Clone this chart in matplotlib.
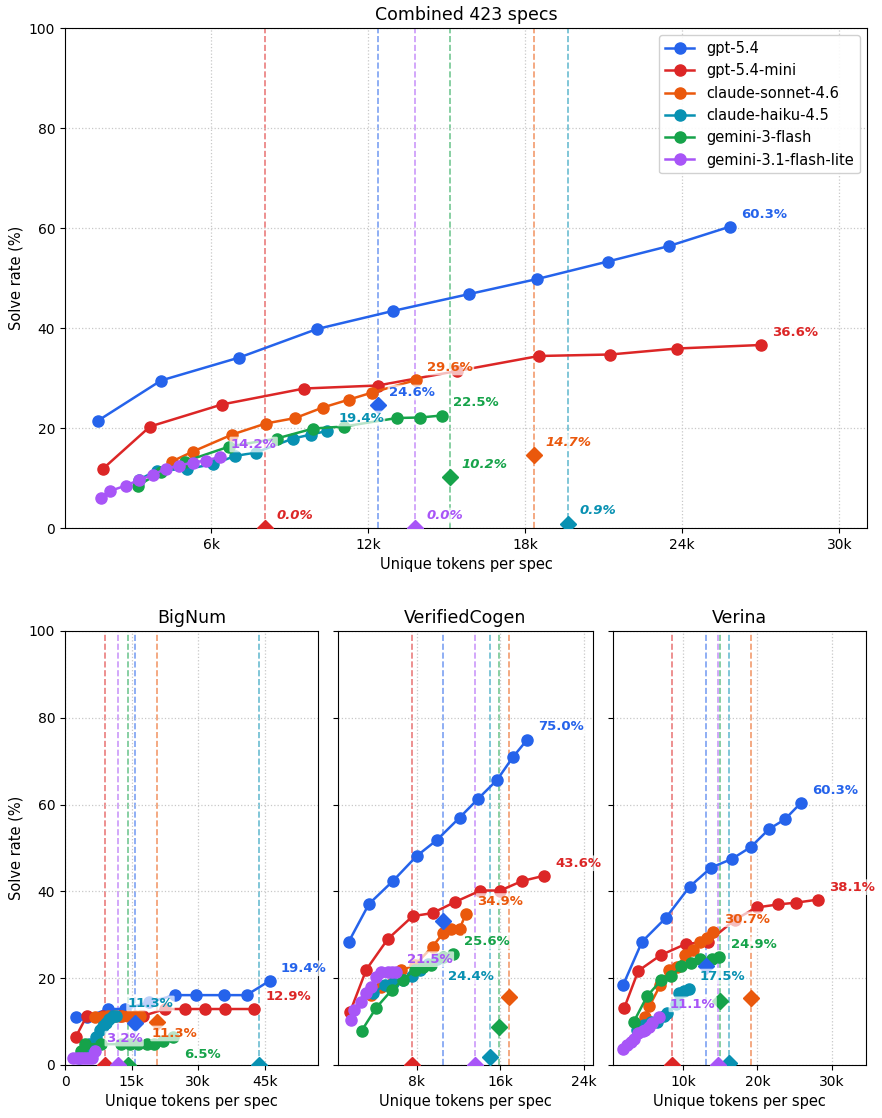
"""
Solve rate vs unique tokens per spec
"""

import matplotlib

matplotlib.use("Agg")
import matplotlib.pyplot as plt
from matplotlib.ticker import FuncFormatter, MultipleLocator

MODELS = [
    "gpt-5.4",
    "gpt-5.4-mini",
    "claude-sonnet-4.6",
    "claude-haiku-4.5",
    "gemini-3-flash",
    "gemini-3.1-flash-lite",
]
COLORS = ["#2563eb", "#dc2626", "#ea580c", "#0891b2", "#16a34a", "#a855f7"]

# --- Combined (tokens in thousands, solve rate in %) ---
COMB_X = {
    "gpt-5.4": [1.69, 4.09, 7.08, 10.05, 12.94, 15.87, 18.46, 21.16, 23.50, 25.84],
    "gpt-5.4-mini": [1.86, 3.67, 6.41, 9.56, 12.37, 15.4, 18.52, 21.25, 23.81, 27.0],
    "claude-sonnet-4.6": [4.50, 5.31, 6.81, 8.09, 9.22, 10.27, 11.28, 12.16, 13.83],
    "claude-haiku-4.5": [3.26, 3.92, 5.09, 6.09, 6.92, 7.71, 9.14, 9.82, 10.43],
    "gemini-3-flash": [3.20, 4.1, 5.0, 6.7, 8.51, 9.91, 11.08, 13.10, 13.99, 14.81],
    "gemini-3.1-flash-lite": [1.78, 2.14, 2.75, 3.24, 3.77, 4.28, 4.78, 5.30, 5.80, 6.33],
}
COMB_Y = {
    "gpt-5.4": [21.5, 29.5, 34.1, 39.8, 43.4, 46.8, 49.8, 53.3, 56.4, 60.3],
    "gpt-5.4-mini": [11.8, 20.3, 24.7, 27.9, 28.5, 31.4, 34.4, 34.7, 35.9, 36.6],
    "claude-sonnet-4.6": [13.3, 15.3, 18.7, 20.9, 22.0, 24.1, 25.7, 27.1, 29.6],
    "claude-haiku-4.5": [9.7, 11.5, 11.8, 12.8, 14.4, 15.1, 17.9, 18.7, 19.4],
    "gemini-3-flash": [8.5, 11.2, 13.3, 16.3, 17.9, 19.9, 20.3, 22.0, 22.1, 22.5],
    "gemini-3.1-flash-lite": [6.1, 7.4, 8.5, 9.6, 10.6, 11.9, 12.5, 13.1, 13.5, 14.2],
}
COMB_BASE_X = [12.37, 8.06, 18.34, 19.64, 15.13, 13.79]
COMB_BASE_Y = [24.6, 0.0, 14.7, 0.9, 10.2, 0.0]

# --- BigNum ---
BIGNUM_X = {
    "gpt-5.4": [2.4, 5.0, 9.7, 13.5, 19.0, 24.8, 29.6, 35.8, 40.9, 46.1],
    "gpt-5.4-mini": [2.4, 4.9, 8.5, 12.5, 17.6, 22.5, 27.0, 31.5, 36.0, 42.6],
    "claude-sonnet-4.6": [6.8, 8.3, 9.8, 11.3, 12.8, 14.3, 15.8, 17.0],
    "claude-haiku-4.5": [3.2, 4.0, 5.5, 7.0, 7.8, 8.6, 9.3, 10.0, 10.8, 11.6],
    "gemini-3-flash": [3.5, 4.5, 8.2, 12.7, 14.6, 16.5, 18.4, 20.1, 22.0, 24.3],
    "gemini-3.1-flash-lite": [1.9, 2.6, 3.3, 4.0, 4.7, 5.4, 6.0, 6.7],
}
BIGNUM_Y = {
    "gpt-5.4": [11.1, 11.1, 12.9, 12.9, 14.5, 16.1, 16.1, 16.1, 16.1, 19.4],
    "gpt-5.4-mini": [6.4, 11.3, 11.3, 11.3, 11.3, 12.9, 12.9, 12.9, 12.9, 12.9],
    "claude-sonnet-4.6": [11.0, 11.0, 11.3, 11.3, 11.3, 11.3, 11.3, 11.3],
    "claude-haiku-4.5": [1.6, 3.2, 4.8, 6.5, 8.1, 8.9, 9.7, 10.5, 11.3, 11.3],
    "gemini-3-flash": [3.2, 4.8, 4.8, 4.8, 4.8, 4.8, 4.8, 4.8, 5.6, 6.5],
    "gemini-3.1-flash-lite": [1.6, 1.6, 1.6, 1.6, 1.6, 1.6, 1.6, 3.2],
}
BIGNUM_BASE_X = [15.7, 9.1, 20.8, 43.8, 14.1, 12.0]
BIGNUM_BASE_Y = [9.6, 0.0, 10.0, 0.0, 0.0, 0.0]

# --- VerifiedCogen ---
VC_X = {
    "gpt-5.4": [1.46, 3.4, 5.7, 8.0, 9.9, 12.1, 13.9, 15.7, 17.2, 18.6],
    "gpt-5.4-mini": [1.6, 3.15, 5.2, 7.6, 9.5, 11.7, 14.1, 16.0, 18.1, 20.2],
    "claude-sonnet-4.6": [3.6, 4.6, 6.5, 7.8, 9.5, 10.5, 11.3, 12.1, 12.7],
    "claude-haiku-4.5": [3.8, 4.9, 5.7, 6.7, 7.5, 8.3, 9.1, 9.9],
    "gemini-3-flash": [2.7, 4.1, 5.6, 6.7, 7.8, 8.6, 9.4, 10.5, 11.5],
    "gemini-3.1-flash-lite": [1.65, 2.0, 2.6, 3.15, 3.6, 4.1, 4.6, 5.2, 5.6, 6.0],
}
VC_Y = {
    "gpt-5.4": [28.4, 37.1, 42.4, 48.2, 51.8, 57.0, 61.4, 65.7, 70.9, 75.0],
    "gpt-5.4-mini": [12.3, 22.0, 29.0, 34.3, 35.0, 37.6, 40.2, 40.2, 42.4, 43.6],
    "claude-sonnet-4.6": [16.1, 18.0, 21.9, 23.0, 27.3, 30.3, 31.3, 31.3, 34.9],
    "claude-haiku-4.5": [16.5, 18.4, 19.0, 19.6, 20.4, 22.0, 23.2, 24.4],
    "gemini-3-flash": [7.9, 13.2, 17.3, 19.7, 21.9, 22.5, 23.0, 25.0, 25.6],
    "gemini-3.1-flash-lite": [10.4, 12.7, 14.6, 16.5, 18.0, 20.3, 21.5, 21.5, 21.5, 21.5],
}
VC_BASE_X = [10.5, 7.5, 16.8, 15.0, 15.9, 13.6]
VC_BASE_Y = [33.2, 0.0, 15.7, 1.8, 8.7, 0.0]

# --- Verina ---
VERINA_X = {
    "gpt-5.4": [1.95, 4.5, 7.7, 10.9, 13.8, 16.6, 19.1, 21.6, 23.7, 25.8],
    "gpt-5.4-mini": [2.1, 4.0, 7.0, 10.4, 13.4, 17.0, 19.9, 22.8, 25.2, 28.1],
    "claude-sonnet-4.6": [4.85, 5.5, 6.95, 8.1, 9.2, 10.3, 11.4, 12.3, 13.2, 14.0],
    "claude-haiku-4.5": [3.8, 4.7, 5.7, 6.5, 7.4, 7.85, 9.0, 9.5, 10.2, 10.75],
    "gemini-3-flash": [3.4, 5.2, 7.1, 8.4, 9.8, 11.1, 12.3, 13.9, 14.9],
    "gemini-3.1-flash-lite": [2.0, 2.5, 3.0, 3.4, 4.0, 4.6, 4.9, 5.4, 5.8, 6.75],
}
VERINA_Y = {
    "gpt-5.4": [18.4, 28.4, 33.9, 41.1, 45.5, 47.5, 50.2, 54.4, 56.6, 60.3],
    "gpt-5.4-mini": [13.1, 21.7, 25.3, 27.9, 28.4, 33.5, 36.3, 37.0, 37.4, 38.1],
    "claude-sonnet-4.6": [11.1, 13.6, 18.4, 21.9, 22.6, 25.3, 26.5, 28.4, 29.2, 30.7],
    "claude-haiku-4.5": [8.1, 9.3, 9.8, 10.0, 11.2, 11.9, 14.0, 16.5, 17.0, 17.5],
    "gemini-3-flash": [10.0, 15.9, 19.6, 20.5, 22.7, 23.4, 24.4, 24.4, 24.9],
    "gemini-3.1-flash-lite": [3.6, 4.6, 5.2, 6.1, 7.4, 7.8, 8.1, 8.8, 9.6, 11.1],
}
VERINA_BASE_X = [13.1, 8.5, 19.1, 16.2, 15.0, 14.7]
VERINA_BASE_Y = [22.7, 0.0, 15.5, 0.5, 14.7, 0.0]

# labels that had to be moved down by hand (number of steps)
LABEL_NUDGE = {
    ("BigNum", "claude-sonnet-4.6"): 2,
    ("BigNum", "gemini-3-flash"): 2,
    ("VerifiedCogen", "claude-haiku-4.5"): 2,
}

FIG_W, FIG_H = 882, 1118


def k_fmt(v, _):
    return "0" if v == 0 else f"{v:.0f}k"


def px_rect(x0, y0, x1, y1):
    return [x0 / FIG_W, 1 - y1 / FIG_H, (x1 - x0) / FIG_W, (y1 - y0) / FIG_H]


def draw_panel(ax, name, xs, ys, base_x, base_y, title, xlim, step, base_labels=False):
    for i, (model, color) in enumerate(zip(MODELS, COLORS)):
        ax.axvline(base_x[i], color=color, linestyle="--", linewidth=1.2, alpha=0.6, zorder=1)
        ax.plot(xs[model], ys[model], "-o", color=color, linewidth=1.8, markersize=8,
                label=model, zorder=3)
        ax.plot(base_x[i], base_y[i], marker="D", markersize=8.5, color=color,
                linestyle="none", zorder=4)

        nudge = LABEL_NUDGE.get((name, model), 0)
        ax.annotate(
            f"{ys[model][-1]:.1f}%",
            (xs[model][-1], ys[model][-1]),
            xytext=(8, 9 - 10.8 * nudge),
            textcoords="offset points",
            ha="left",
            va="center",
            fontsize=9.5,
            fontweight="bold",
            color=color,
            bbox=dict(boxstyle="round,pad=0.1", fc="white", ec="none", alpha=0.7),
            zorder=6,
            annotation_clip=False,
        )
        if base_labels:
            ax.annotate(
                f"{base_y[i]:.1f}%",
                (base_x[i], base_y[i]),
                xytext=(8, 9),
                textcoords="offset points",
                ha="left",
                va="center",
                fontsize=9.5,
                fontweight="bold",
                fontstyle="normal" if base_y[i] > 20 else "italic",
                color=color,
                bbox=dict(boxstyle="round,pad=0.1", fc="white", ec="none", alpha=0.7),
                zorder=6,
                annotation_clip=False,
            )

    ax.set_title(title, fontsize=12.5)
    ax.set_xlim(*xlim)
    ax.set_ylim(0, 100)
    ax.xaxis.set_major_locator(MultipleLocator(step))
    ax.xaxis.set_major_formatter(FuncFormatter(k_fmt))
    ax.set_xlabel("Unique tokens per spec", fontsize=10.5)
    ax.grid(True, linestyle=":", color="#c8c8c8", linewidth=0.9)
    ax.tick_params(labelsize=10)


fig = plt.figure(figsize=(FIG_W / 100, FIG_H / 100), dpi=100)

ax_top = fig.add_axes(px_rect(65, 28, 867, 528))
draw_panel(ax_top, "Combined", COMB_X, COMB_Y, COMB_BASE_X, COMB_BASE_Y,
           "Combined 423 specs", (0.42, 31.06), 6, base_labels=True)
ax_top.set_ylabel("Solve rate (%)", fontsize=10.5)
ax_top.legend(loc="upper right", fontsize=10.5, framealpha=0.9)

ax_bn = fig.add_axes(px_rect(65, 631, 318, 1065))
draw_panel(ax_bn, "BigNum", BIGNUM_X, BIGNUM_Y, BIGNUM_BASE_X, BIGNUM_BASE_Y,
           "BigNum", (0, 57.0), 15)
ax_bn.set_ylabel("Solve rate (%)", fontsize=10.5)

ax_vc = fig.add_axes(px_rect(338, 631, 593, 1065))
draw_panel(ax_vc, "VerifiedCogen", VC_X, VC_Y, VC_BASE_X, VC_BASE_Y,
           "VerifiedCogen", (0.43, 24.9), 8)
ax_vc.tick_params(labelleft=False)

ax_ve = fig.add_axes(px_rect(613, 631, 866, 1065))
draw_panel(ax_ve, "Verina", VERINA_X, VERINA_Y, VERINA_BASE_X, VERINA_BASE_Y,
           "Verina", (0.6, 34.6), 10)
ax_ve.tick_params(labelleft=False)

plt.savefig("out.png", dpi=100)
plt.close()
